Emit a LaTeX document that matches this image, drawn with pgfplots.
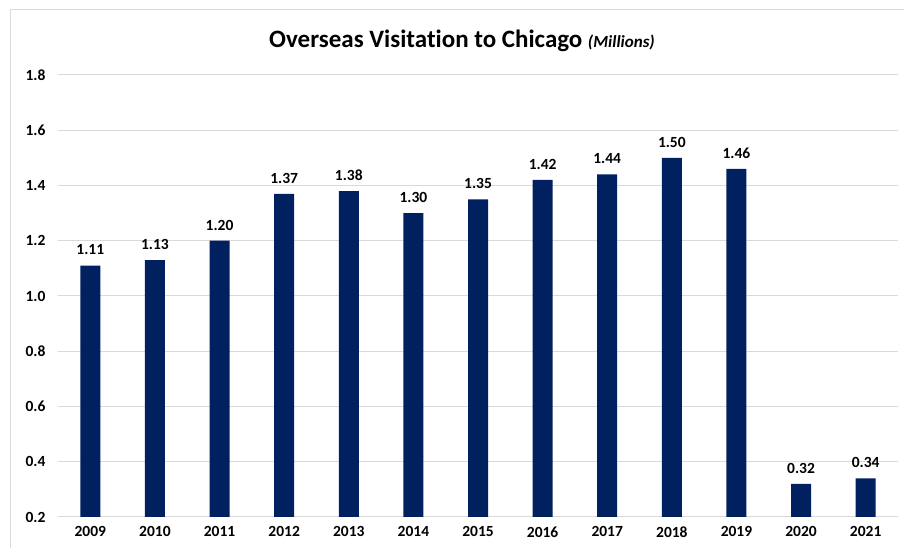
\documentclass[border=0pt]{standalone}
\usepackage{fontspec}
\setmainfont{Carlito}[Ligatures=NoCommon]
\usepackage{pgfplots}
\pgfplotsset{compat=1.18}
\definecolor{navy}{HTML}{002060}
\definecolor{gridgray}{HTML}{D9D9D9}
\begin{document}
\begin{tikzpicture}[x=1pt,y=1pt]
\begin{axis}[
  at={(58pt,31pt)}, anchor=south west,
  width=840pt, height=442pt, scale only axis,
  ybar, bar width=20pt,
  xmin=-0.5, xmax=12.5,
  ymin=0.2, ymax=1.8,
  xtick=data,
  xticklabels={2009,2010,2011,2012,2013,2014,2015,2016,2017,2018,2019,2020,2021},
  ytick={0.2,0.4,...,1.8},
  /pgf/number format/assume math mode=true,
  yticklabel={\pgfmathprintnumber[fixed,fixed zerofill,precision=1]{\tick}},
  ticklabel style={font=\fontsize{15.5}{18}\selectfont\bfseries},
  yticklabel style={anchor=east, xshift=-9pt},
  xticklabel style={anchor=north, yshift=-6pt},
  major tick length=0pt,
  axis line style={draw=none},
  ymajorgrids, grid style={gridgray, line width=1pt},
  nodes near coords,
  nodes near coords style={font=\fontsize{15.5}{18}\selectfont\bfseries, black, yshift=7pt, /pgf/number format/.cd, fixed, fixed zerofill, precision=2, assume math mode=true},
]
\addplot[fill=navy, draw=none] coordinates {
  (0,1.11) (1,1.13) (2,1.20) (3,1.37) (4,1.38) (5,1.30) (6,1.35)
  (7,1.42) (8,1.44) (9,1.50) (10,1.46) (11,0.32) (12,0.34)
};
\end{axis}
\node[font=\fontsize{25}{30}\selectfont\bfseries] at (462,507) {Overseas Visitation to Chicago \fontsize{17}{20}\selectfont\itshape(Millions)};
\draw[gridgray, line width=1pt] (10,0) -- (10,538) -- (904,538);
\pgfresetboundingbox
\useasboundingbox (0,0) rectangle (904,548);
\end{tikzpicture}
\end{document}
